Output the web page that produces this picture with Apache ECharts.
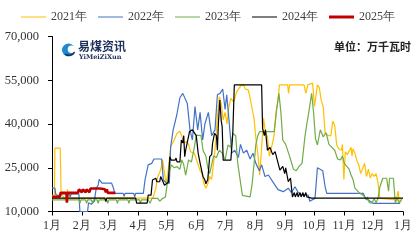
<!DOCTYPE html>
<html>
<head>
<meta charset="utf-8">
<script src="https://cdn.jsdelivr.net/npm/echarts@6/dist/echarts.min.js"></script>
<style>
html,body{margin:0;padding:0;background:#fff;}
#c{width:416px;height:246px;}
</style>
</head>
<body>
<div id="c"></div>
<script>
// ---- data (x = day of year, y = 万千瓦时) ----
const seriesNames = ['2021年', '2022年', '2023年', '2024年', '2025年'];
const monthStarts = [0, 31, 59, 90, 120, 151, 181, 212, 243, 273, 304, 334, 365];
const monthLabels = ['1月','2月','3月','4月','5月','6月','7月','8月','9月','10月','11月','12月','1月'];
const yTicks = [10000, 25000, 40000, 55000, 70000];

const data2021 = [[0,15500],[2.5,15500],[3,31700],[8.5,31700],[9.5,15800],[12,15000],[14,13900],[15,15000],[16,17600],[17,17600],[18,14600],[105,14600],[108,18000],[110,22000],[113,24200],[115,27700],[117,27700],[118.5,19800],[120,22000],[121.5,26000],[123.5,32200],[127,34500],[130,36800],[133,37500],[135,36000],[137,33400],[140,34000],[142,33000],[144,30500],[148,30000],[150,28000],[152,27700],[154,24000],[156,23100],[158,19500],[160,18000],[162,19500],[164,22000],[166,21000],[168,26600],[170,33000],[172,42500],[174,49400],[176,47000],[178,41400],[180,44000],[182,40000],[184,46000],[186,48800],[189,47500],[192,51000],[196,53000],[199,53500],[201,52000],[204,51700],[206,49000],[208,45400],[210,42000],[212,35100],[214,30000],[216,22500],[218,32000],[220,42000],[222,37000],[224,35600],[226,29000],[227.5,28800],[229,33000],[231,36200],[233,44000],[235,48200],[236.5,53400],[245,53400],[246,50500],[247,53400],[262,53400],[264,50500],[266,53400],[271,54000],[273,46000],[276,53400],[278,52500],[280,48000],[282,46000],[284,37000],[287,36000],[290,36000],[292,41000],[294,39500],[296,33000],[298,31500],[301,31000],[302,33000],[303.5,21000],[305,30500],[307,29500],[309,30000],[311,32000],[312,29000],[313,31500],[315,30000],[317,27500],[319,26000],[321,23000],[323,22500],[325,26500],[327,22000],[329,24500],[331,21500],[333,23000],[335,22000],[337,23000],[339,19800],[341,14500],[343,14000],[358,14000],[360,17000],[361,13000],[363,14200]];

const data2022 = [[0,18000],[3,18000],[4,15800],[6,16000],[8,15300],[10,16000],[18,16000],[19,15000],[20,16000],[28,16000],[29,10000],[37,10000],[38,13000],[41,12500],[44,13500],[46,18000],[48,19000],[49,21000],[52,19700],[62,19700],[64,18000],[65,16200],[74,16200],[75,15200],[76,16200],[85,16200],[86,15000],[87,16200],[95,16200],[96.7,20800],[100,26000],[103.7,26500],[106,28000],[114,28000],[115.8,20800],[119,19700],[122,19700],[123.4,32200],[126,38000],[129.7,43000],[133,49000],[136,50500],[138,50000],[140.7,47000],[143.5,38000],[146,34500],[148.7,46000],[151.5,38000],[154,44000],[156.7,34500],[159,40000],[162.6,44000],[166,36000],[169.5,38000],[172,50000],[174.7,50500],[177.5,52000],[180,45000],[181.7,50000],[184.4,40000],[186.9,30000],[190,31000],[193.8,28500],[196,33000],[199,30000],[202.5,31000],[206,28000],[209,30000],[212,26500],[215.6,24000],[218,26000],[221.5,22000],[225,22500],[230,20000],[235,17500],[240.5,16800],[245.7,18000],[249,16500],[252.7,18500],[256,16500],[259.7,15600],[266.5,15600],[268,13500],[270,12900],[273.5,14500],[276,25000],[281.5,24000],[284,18500],[285.7,16200],[323.8,16200],[326,14500],[334,12800],[362,12800]];

const data2023 = [[0,14000],[28,14000],[29,12800],[30,14000],[35,14000],[36,12800],[37,14000],[41,14000],[42,12800],[43,14000],[47,14000],[48,12800],[49,14000],[57,14000],[58,12800],[59,14000],[67,14000],[68,12800],[69,14000],[79,14000],[80,12800],[81,14000],[91,14000],[92,12800],[93,14000],[100,14000],[102,12800],[104,14500],[110,14500],[112,13500],[115,14500],[118,15000],[120,20000],[121.5,23100],[124,26000],[127,25000],[130,25400],[133,24500],[135,27700],[137,26000],[139,22500],[142,27700],[145,27000],[148,32000],[150,36200],[152,35600],[155,36000],[157,31000],[160,29000],[162,25000],[164,23000],[166,23500],[168,29000],[171,28500],[174,31000],[177,30000],[180,27700],[183,32800],[186,32000],[188,36800],[191,36000],[193,27000],[196,20000],[198,15500],[200,15000],[206,15000],[208,19100],[210,26000],[212,33000],[214,36000],[216,37400],[231,37400],[234,46000],[236,50500],[238,44000],[240,34500],[243,33000],[246,30000],[248,28000],[251,24500],[254,24000],[257,25500],[260,26500],[263,35600],[265,40000],[267,44000],[270,50500],[272,44000],[274,35000],[276,32800],[279,38000],[282,35600],[285,37000],[288,33000],[291,32000],[294,31000],[297,28000],[300,27700],[302,29000],[304,26500],[306,27000],[309,24500],[311,22500],[313,21000],[315,18000],[318,17000],[320,16300],[323,15700],[325,15000],[327,14000],[328,15000],[330,13000],[333,12900],[335,14500],[337,13000],[339,14500],[341,18500],[344,21400],[348,21400],[350,17000],[351,21400],[355,21400],[357,12900],[359,14500],[361,12900],[364,14200]];

const data2024 = [[0,14600],[55,14600],[56,13400],[57,14600],[87,14600],[88,12900],[99,12900],[100,15600],[103,15600],[104.5,20800],[106,21400],[108,21400],[109,20200],[112,20200],[113,22000],[115,22000],[117,19000],[119,19000],[121,20000],[122.5,28800],[124,27600],[128,27600],[129,28300],[130,27000],[133,27000],[134.5,34500],[136,33500],[137,36000],[138,28800],[139,31000],[141,31000],[143,37400],[146,38000],[148,38000],[150,36000],[152,30000],[154,26600],[157,22000],[159,20800],[160,19500],[162,21000],[164,28800],[166,29500],[167,33400],[169,36800],[171,36000],[172,31000],[173,40000],[174.5,48200],[176,41000],[177,39000],[178,27600],[186,27600],[188,36800],[189.6,53400],[218,53400],[219,38500],[220.8,36000],[222,38000],[224,31000],[226.7,32000],[229.5,29500],[232,30500],[234,30000],[237,24200],[240,25500],[242,23000],[243,25000],[245.7,20200],[248,21500],[250,15000],[252,16500],[253,15000],[255,16500],[256,15000],[258,16500],[259,15000],[261,16500],[262,15000],[264,16500],[265,15000],[270,14600],[365,14600]];

const data2025 = [[0,15000],[8,15000],[9,16400],[15,16400],[15.5,13000],[16,16400],[27,16400],[28,17600],[30,17600],[31,16600],[32,17600],[34,17600],[35,16600],[36,17600],[38,17600],[39,16600],[40,17900],[50,17900],[51,17600],[55,17600],[56,16600],[57,17600],[58,16400],[66,16400]];

const allData = [data2021, data2022, data2023, data2024, data2025];
const colors = ['#FFC000', '#4472C4', '#70AD47', '#000000', '#C00000'];
const widths = [1.2, 1.2, 1.2, 1.2, 2.6];

// legend icons: thin / thick line within the same 25x3 box (corner specks keep the box)
const thinIcon = 'path://M0,0h0.01v0.01h-0.01z M0,1h25v1.1h-25z M24.99,2.99h0.01v0.01h-0.01z';
const thickIcon = 'path://M0,0h25v3h-25z';

const chart = echarts.init(document.getElementById('c'), null, {renderer: 'canvas'});
const serif = '"Liberation Serif","Times New Roman",serif';

chart.setOption({
  animation: false,
  backgroundColor: '#fff',
  color: colors,
  legend: {
    top: 6,
    left: 'center',
    itemWidth: 25,
    itemHeight: 3,
    itemGap: 11,
    textStyle: {fontFamily: serif, fontSize: 12, color: '#404040'},
    data: seriesNames.map((n, i) => ({name: n, icon: i === 4 ? thickIcon : thinIcon}))
  },
  grid: {left: 52, right: 13, top: 36.5, bottom: 34.5, containLabel: false},
  xAxis: {
    type: 'value',
    min: 0, max: 365,
    axisLine: {show: true, lineStyle: {color: '#000', width: 1}},
    axisTick: {show: true, length: 4, customValues: monthStarts, lineStyle: {color: '#000'}},
    splitLine: {show: false},
    axisLabel: {
      customValues: monthStarts,
      margin: 8,
      fontFamily: serif, fontSize: 12, color: '#333',
      formatter: v => monthLabels[monthStarts.indexOf(v)]
    }
  },
  yAxis: {
    type: 'value',
    min: yTicks[0], max: yTicks[yTicks.length - 1], interval: 15000,
    axisLine: {show: true, lineStyle: {color: '#000', width: 1}},
    axisTick: {show: true, length: 4, lineStyle: {color: '#000'}},
    splitLine: {show: false},
    axisLabel: {
      margin: 13,
      fontFamily: serif, fontSize: 12.5, color: '#333',
      formatter: v => v.toLocaleString('en-US')
    }
  },
  graphic: [
    {type: 'circle', shape: {cx: 68.5, cy: 50, r: 6.5}, style: {fill: '#1E88D0'}},
    {type: 'circle', shape: {cx: 71.5, cy: 49.3, r: 3.8}, style: {fill: '#fff'}},
    {type: 'arc', shape: {cx: 69, cy: 49, r: 6.3, startAngle: 0.5, endAngle: 2.2}, style: {stroke: '#1F2F5C', lineWidth: 1.6, fill: null}},
    {type: 'text', left: 78, top: 40.5, style: {text: '易煤资讯', font: 'bold 12px "Noto Sans CJK SC"', fill: '#1F2F5C'}},
    {type: 'text', left: 79, top: 54, style: {text: 'YiMeiZiXun', font: 'bold 6.5px "DejaVu Serif"', fill: '#1F2F5C'}},
    {type: 'text', right: 5, top: 41, style: {text: '单位：万千瓦时', font: 'bold 11px "Noto Sans CJK SC"', fill: '#222'}}
  ],
  series: seriesNames.map((n, i) => ({
    name: n,
    type: 'line',
    data: allData[i],
    symbol: 'none',
    lineStyle: {color: colors[i], width: widths[i]},
    itemStyle: {color: colors[i]},
    z: 2 + i
  }))
});
</script>
</body>
</html>
